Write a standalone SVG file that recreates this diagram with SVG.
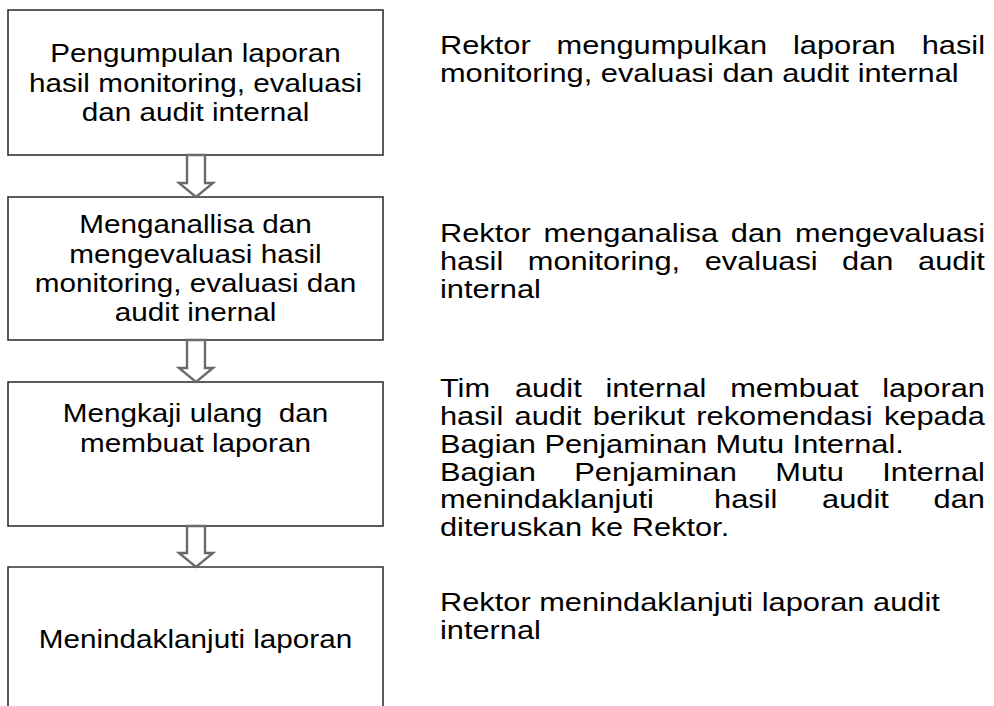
<svg xmlns="http://www.w3.org/2000/svg" width="994" height="706" viewBox="0 0 994 706">
<style>
.box{fill:#ffffff;stroke:#333333;stroke-width:1.6}
.arr{fill:#ffffff;stroke:#6a6a6a;stroke-width:2.4;stroke-linejoin:miter}
.arri{fill:none;stroke:#c8c8c8;stroke-width:1}
.lt{font-family:"Liberation Sans",Arial,sans-serif;font-size:26px;fill:#000;text-anchor:middle;white-space:pre}
.rt{font-family:"Liberation Sans",Arial,sans-serif;font-size:25px;fill:#000}
</style>
<rect width="994" height="706" fill="#ffffff"/>
<g id="node1">
<rect class="box" x="8" y="10" width="375" height="145"/>
<g transform="scale(1.142 1)">
<text class="lt" x="171.2" y="62">Pengumpulan laporan</text>
<text class="lt" x="171.2" y="92">hasil monitoring, evaluasi</text>
<text class="lt" x="171.2" y="121">dan audit internal</text>
</g>
</g>
<g id="node2">
<rect class="box" x="8" y="197" width="375" height="143"/>
<g transform="scale(1.142 1)">
<text class="lt" x="171.2" y="233">Menganallisa dan</text>
<text class="lt" x="171.2" y="263">mengevaluasi hasil</text>
<text class="lt" x="171.2" y="292">monitoring, evaluasi dan</text>
<text class="lt" x="171.2" y="321">audit inernal</text>
</g>
</g>
<g id="node3">
<rect class="box" x="8" y="382" width="375" height="144"/>
<g transform="scale(1.142 1)">
<text class="lt" x="171.2" y="422" xml:space="preserve">Mengkaji ulang  dan</text>
<text class="lt" x="171.2" y="452">membuat laporan</text>
</g>
</g>
<g id="node4">
<path class="box" d="M8,706 V567 H383 V706"/>
<g transform="scale(1.142 1)">
<text class="lt" x="171.2" y="648">Menindaklanjuti laporan</text>
</g>
</g>
<g id="connectors">
<polygon class="arr" points="187,155 205,155 205,183 213,183 196,197 179,183 187,183"/>
<polygon class="arr" points="187,340 205,340 205,368 213,368 196,382 179,368 187,368"/>
<polygon class="arr" points="187,526 205,526 205,553 213,553 196,567 179,553 187,553"/>
</g>
<g id="desc1" transform="scale(1.232 1)">
<text class="rt" y="54"><tspan x="357.1">Rektor</tspan><tspan x="451.7">mengumpulkan</tspan><tspan x="643.6">laporan</tspan><tspan x="748.1">hasil</tspan></text>
<text class="rt" x="357.1" y="82">monitoring, evaluasi dan audit internal</text>
</g>
<g id="desc2" transform="scale(1.232 1)">
<text class="rt" y="242"><tspan x="357.1">Rektor</tspan><tspan x="441.1">menganalisa</tspan><tspan x="593.2">dan</tspan><tspan x="645.3">mengevaluasi</tspan></text>
<text class="rt" y="270"><tspan x="357.1">hasil</tspan><tspan x="428.4">monitoring,</tspan><tspan x="571.95">evaluasi</tspan><tspan x="683.55">dan</tspan><tspan x="745.15">audit</tspan></text>
<text class="rt" x="357.1" y="298">internal</text>
</g>
<g id="desc3" transform="scale(1.232 1)">
<text class="rt" y="397"><tspan x="357.1">Tim</tspan><tspan x="418">audit</tspan><tspan x="491.4">internal</tspan><tspan x="592.7">membuat</tspan><tspan x="716.1">laporan</tspan></text>
<text class="rt" y="425"><tspan x="357.1">hasil</tspan><tspan x="417.7">audit</tspan><tspan x="481.1">berikut</tspan><tspan x="565.2">rekomendasi</tspan><tspan x="717.5">kepada</tspan></text>
<text class="rt" x="357.1" y="453">Bagian Penjaminan Mutu Internal.</text>
<text class="rt" y="481"><tspan x="357.1">Bagian</tspan><tspan x="466.1">Penjaminan</tspan><tspan x="629.3">Mutu</tspan><tspan x="716.1">Internal</tspan></text>
<text class="rt" y="508"><tspan x="357.1">menindaklanjuti</tspan><tspan x="579.6">hasil</tspan><tspan x="667.3">audit</tspan><tspan x="757.8">dan</tspan></text>
<text class="rt" x="357.1" y="536">diteruskan ke Rektor.</text>
</g>
<g id="desc4" transform="scale(1.232 1)">
<text class="rt" x="357.1" y="611">Rektor menindaklanjuti laporan audit</text>
<text class="rt" x="357.1" y="639">internal</text>
</g>
</svg>
